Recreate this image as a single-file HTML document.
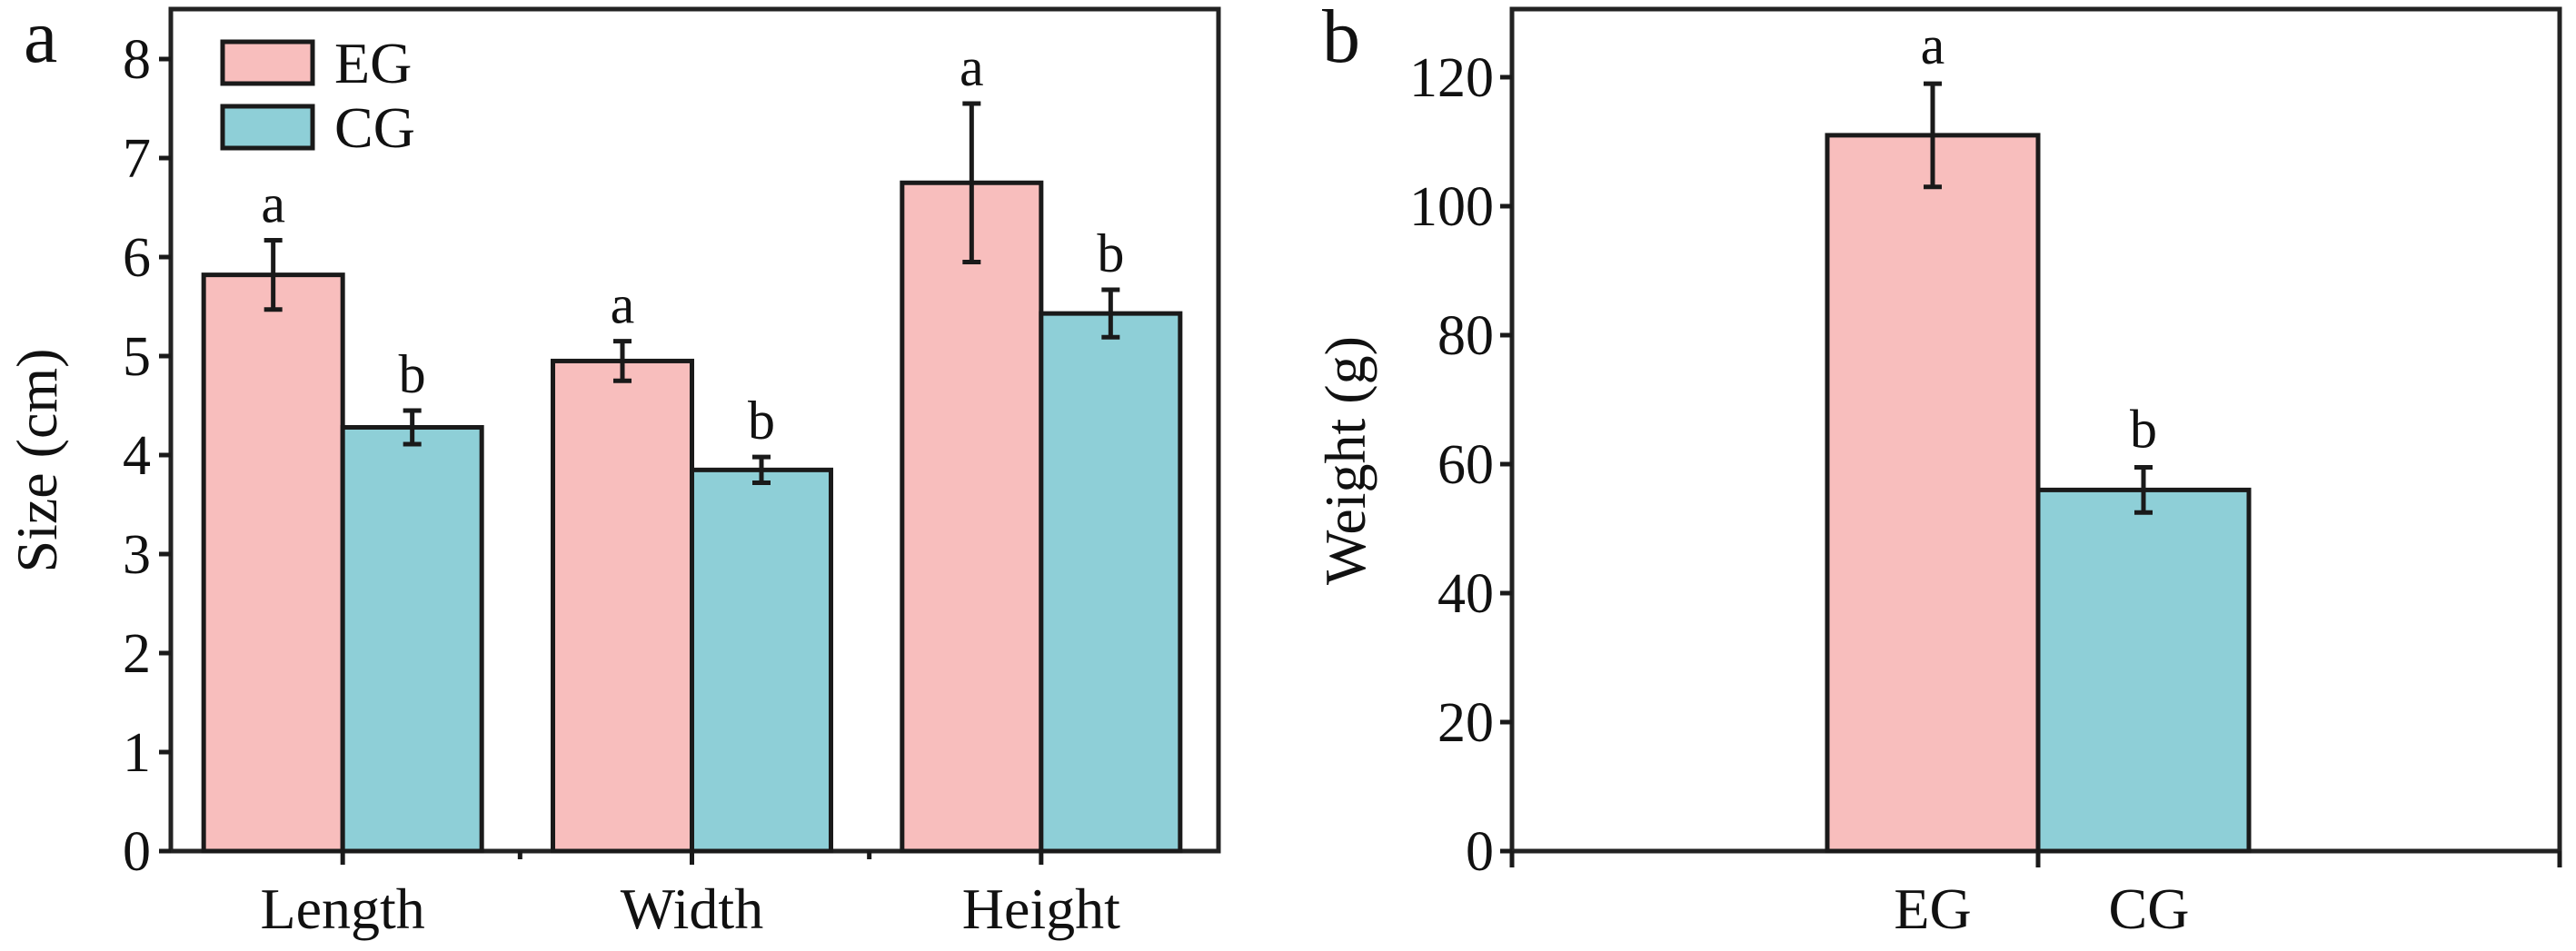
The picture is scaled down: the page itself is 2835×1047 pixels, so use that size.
<!DOCTYPE html>
<html><head><meta charset="utf-8"><style>
body{margin:0;background:#fff}
svg text{font-family:"Liberation Serif",serif;fill:#111}
</style></head><body>
<svg id="chart" width="2835" height="1042" xmlns="http://www.w3.org/2000/svg">
</svg>
<script>
const catsA = ["Length","Width","Height"];
const egA = [5.82, 4.95, 6.75];
const egAErr = [0.35, 0.2, 0.8];
const cgA = [4.28, 3.85, 5.43];
const cgAErr = [0.17, 0.13, 0.24];
const ticksA = [0,1,2,3,4,5,6,7,8];
const lettersEgA = ["a","a","a"];
const lettersCgA = ["b","b","b"];
const groupsB = ["EG","CG"];
const valsB = [111, 56];
const errB = [8, 3.5];
const lettersB = ["a","b"];
const ticksB = [0,20,40,60,80,100,120];

const svg = document.getElementById('chart');
const NS = 'http://www.w3.org/2000/svg';
function mk(tag, attrs, parent){const e=document.createElementNS(NS,tag);for(const k in attrs)e.setAttribute(k,attrs[k]);(parent||svg).appendChild(e);return e;}
const PINK='#f8bebd', TEAL='#8ecfd7', LINE='#1a1a1a';

// ---------- Panel a ----------
const a = {l:188, r:1341, t:10, b:937};
const yA = v => a.b - v/8*(a.b-65);
const catW = (a.r-a.l)/3;
const cx = i => a.l + catW*(i+0.5) - 3;
const bw = 153;
let g = mk('g',{});


let fr = mk('rect',{x:a.l,y:a.t,width:a.r-a.l,height:a.b-a.t,fill:'none',stroke:'#222','stroke-width':5},g);


ticksA.forEach(t=>{
  const y=yA(t);
  let ln=mk('line',{x1:a.l-13,x2:a.l,y1:y,y2:y,stroke:LINE,'stroke-width':5},g);
  
  
  let tx=mk('text',{x:a.l-22,y:y+21,'font-size':62,'text-anchor':'end'},g);
  tx.textContent=t;
  
  
});
for(let i=0;i<=catsA.length*2;i++){
  const x=a.l+catW*i/2 - (i%2?3:0);
  if(i===0||i===catsA.length*2) continue;
  let ln=mk('line',{x1:x,x2:x,y1:a.b,y2:a.b+(i%2?15:9),stroke:LINE,'stroke-width':5},g);
  
  
}
function errbar(x,v,e,yf,parent,cap){
  let p=mk('path',{d:`M${x},${yf(v+e)}V${yf(v-e)}M${x-cap},${yf(v+e)}H${x+cap}M${x-cap},${yf(v-e)}H${x+cap}`,stroke:LINE,'stroke-width':5,fill:'none'},parent);
  
  
}
catsA.forEach((c,i)=>{
  const x=cx(i);
  let r1=mk('rect',{x:x-bw,y:yA(egA[i]),width:bw,height:a.b-yA(egA[i]),fill:PINK,stroke:LINE,'stroke-width':5},g);
  
  
  let r2=mk('rect',{x:x,y:yA(cgA[i]),width:bw,height:a.b-yA(cgA[i]),fill:TEAL,stroke:LINE,'stroke-width':5},g);
  
  
  errbar(x-bw/2,egA[i],egAErr[i],yA,g,10);
  errbar(x+bw/2,cgA[i],cgAErr[i],yA,g,10);
  let l1=mk('text',{x:x-bw/2,y:yA(egA[i]+egAErr[i])-20,'font-size':60,'text-anchor':'middle'},g);
  l1.textContent=lettersEgA[i];
  
  
  let l2=mk('text',{x:x+bw/2,y:yA(cgA[i]+cgAErr[i])-20,'font-size':60,'text-anchor':'middle'},g);
  l2.textContent=lettersCgA[i];
  
  
  let cl=mk('text',{x:x,y:1022,'font-size':64,'text-anchor':'middle'},g);
  cl.textContent=c;
  
  
});
let yt=mk('text',{x:0,y:0,'font-size':64,'text-anchor':'middle',transform:'translate(62,507) rotate(-90)'},g);
yt.textContent='Size (cm)';


let pa=mk('text',{x:26,y:68,'font-size':84},g);
pa.textContent='a';


// legend
[['EG',PINK,46],['CG',TEAL,117]].forEach(([n,c,y])=>{
  let lg=mk('g',{},g);
  
  
  mk('rect',{x:245,y:y,width:99,height:46,fill:c,stroke:LINE,'stroke-width':5},lg);
  let t=mk('text',{x:368,y:y+45,'font-size':64},lg);
  t.textContent=n;
});

// ---------- Panel b ----------
const b = {l:1664, r:2817, t:10, b:937};
const yB = v => b.b - v/120*(b.b-85);
let gb = mk('g',{});


let frb=mk('rect',{x:b.l,y:b.t,width:b.r-b.l,height:b.b-b.t,fill:'none',stroke:'#222','stroke-width':5},gb);


ticksB.forEach(t=>{
  const y=yB(t);
  let ln=mk('line',{x1:b.l-13,x2:b.l,y1:y,y2:y,stroke:LINE,'stroke-width':5},gb);
  
  
  let tx=mk('text',{x:b.l-20,y:y+21,'font-size':62,'text-anchor':'end'},gb);
  tx.textContent=t;
  
  
});
const midB=2243, bwB=232;
[b.l, midB, b.r].forEach(x=>{
  let ln=mk('line',{x1:x,x2:x,y1:b.b,y2:b.b+18,stroke:LINE,'stroke-width':5},gb);
  
  
});
groupsB.forEach((n,i)=>{
  const x0=midB+(i-1)*bwB;
  let r=mk('rect',{x:x0,y:yB(valsB[i]),width:bwB,height:b.b-yB(valsB[i]),fill:i?TEAL:PINK,stroke:LINE,'stroke-width':5},gb);
  
  
  errbar(x0+bwB/2,valsB[i],errB[i],yB,gb,10);
  let l=mk('text',{x:x0+bwB/2,y:yB(valsB[i]+errB[i])-22,'font-size':60,'text-anchor':'middle'},gb);
  l.textContent=lettersB[i];
  
  
  let cl=mk('text',{x:x0+bwB/2+(i?6:0),y:1022,'font-size':64,'text-anchor':'middle'},gb);
  cl.textContent=n;
  
  
});
let ytb=mk('text',{x:0,y:0,'font-size':64,'text-anchor':'middle',transform:'translate(1502,507) rotate(-90)'},gb);
ytb.textContent='Weight (g)';


let pb=mk('text',{x:1455,y:68,'font-size':84},gb);
pb.textContent='b';


</script>
</body></html>
